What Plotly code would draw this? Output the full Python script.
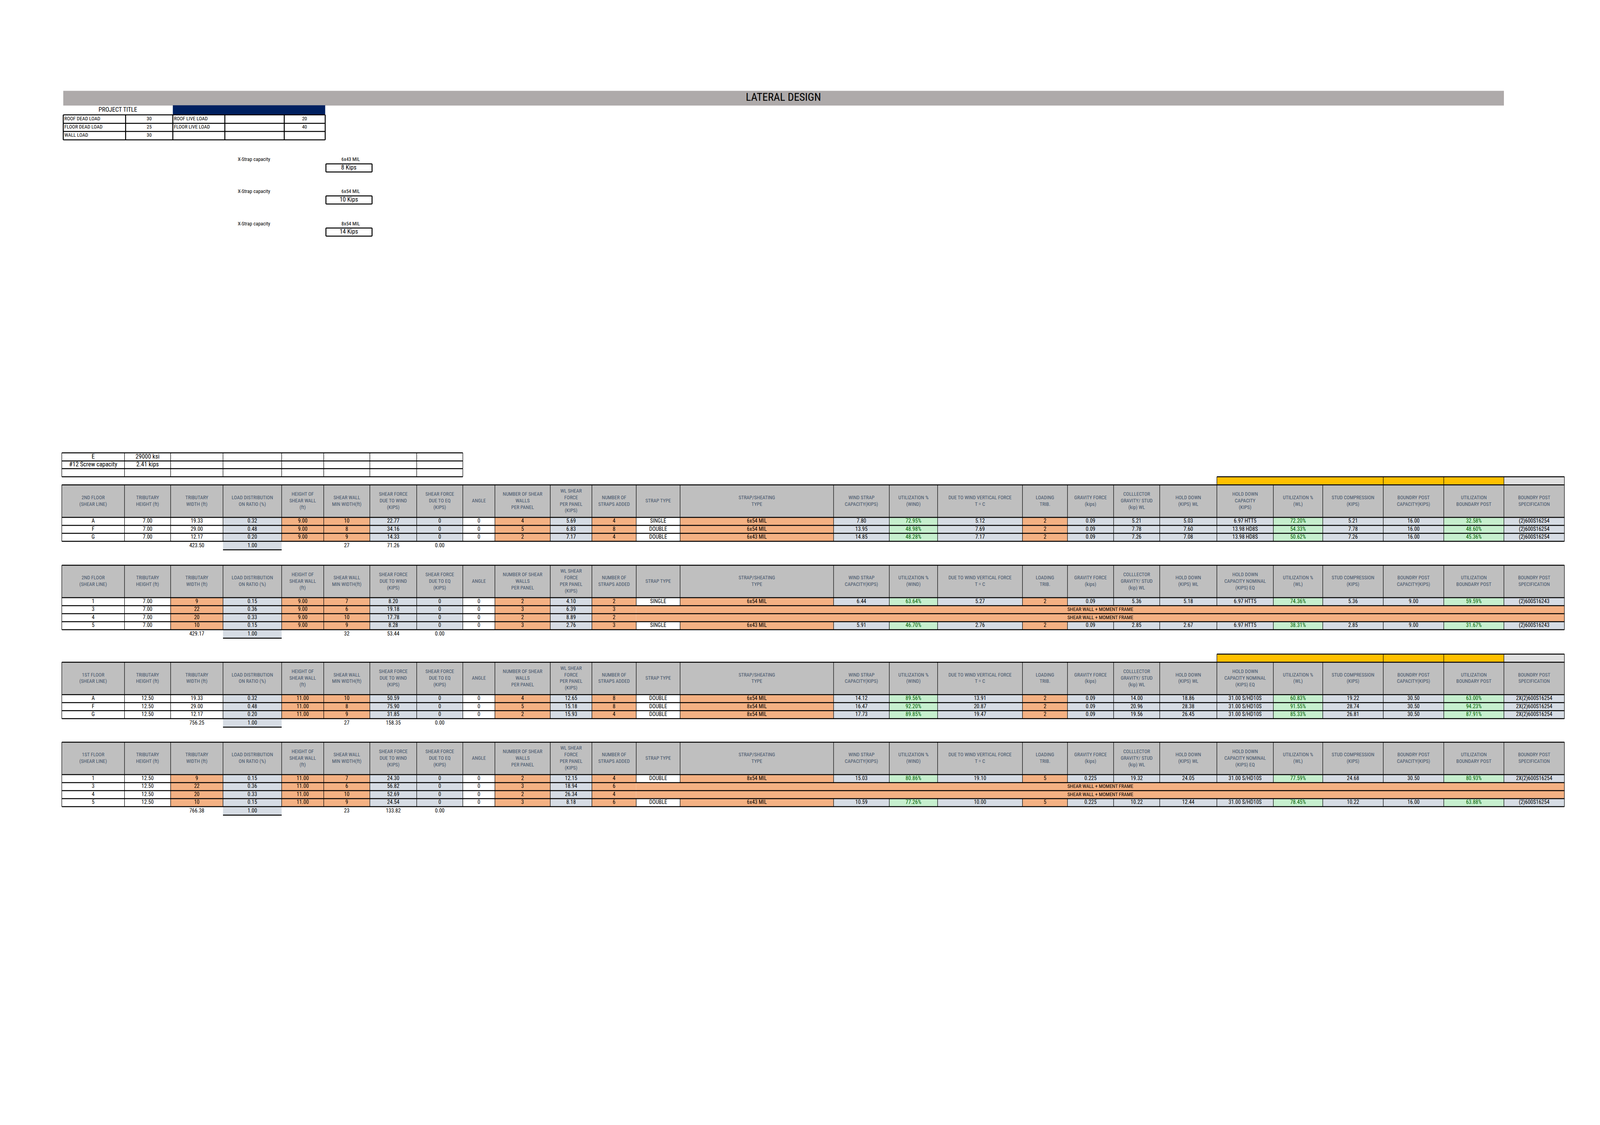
import plotly.graph_objects as go

# ---- data ----
load_labels = ['ROOF DEAD LOAD', 'FLOOR DEAD LOAD', 'WALL LOAD']
load_values = ['30', '25', '30']
live_labels = ['ROOF LIVE LOAD', 'FLOOR LIVE LOAD', '']
live_values = ['20', '40', '']
strap_names = ['6x43 MIL', '6x54 MIL', '8x54 MIL']
strap_caps = ['8 Kips', '10 Kips', '14 Kips']
const_labels = ['E', '#12 Screw capacity', '']
const_values = ['29000 ksi', '2.41 kips', '']

headers = ['{}<br>(SHEAR LINE)', 'TRIBUTARY<br>HEIGHT (ft)', 'TRIBUTARY<br>WIDTH (ft)',
           'LOAD DISTRIBUTION<br>ON RATIO (%)', 'HEIGHT OF<br>SHEAR WALL<br>(ft)',
           'SHEAR WALL<br>MIN WIDTH(ft)', 'SHEAR FORCE<br>DUE TO WIND<br>(KIPS)',
           'SHEAR FORCE<br>DUE TO EQ<br>(KIPS)', 'ANGLE', 'NUMBER OF SHEAR<br>WALLS<br>PER PANEL',
           'WL SHEAR<br>FORCE<br>PER PANEL<br>(KIPS)', 'NUMBER OF<br>STRAPS ADDED', 'STRAP TYPE',
           'STRAP/SHEATING<br>TYPE', 'WIND STRAP<br>CAPACITY(KIPS)', 'UTILIZATION %<br>(WIND)',
           'DUE TO WIND VERTICAL FORCE<br>T = C', 'LOADING<br>TRIB.', 'GRAVITY FORCE<br>(kips)',
           'COLLLECTOR<br>GRAVITY/ STUD<br>(kip) WL', 'HOLD DOWN<br>(KIPS) WL', '{}',
           'UTILIZATION %<br>(WL)', 'STUD COMPRESSION<br>(KIPS)', 'BOUNDRY POST<br>CAPACITY(KIPS)',
           'UTILIZATION<br>BOUNDARY POST', 'BOUNDRY POST<br>SPECIFICATION']
hd_cap_a = 'HOLD DOWN<br>CAPACITY<br>(KIPS)'
hd_cap_b = 'HOLD DOWN<br>CAPACITY NOMINAL<br>(KIPS) EQ'

t1_rows = [
    ['A', '7.00', '19.33', '0.32', '9.00', '10', '22.77', '0', '0', '4', '5.69', '4', 'SINGLE', '6x54 MIL', '7.80', '72.95%', '5.12', '2', '0.09', '5.21', '5.03', '6.97 HTT5', '72.20%', '5.21', '16.00', '32.58%', '(2)600S16254'],
    ['F', '7.00', '29.00', '0.48', '9.00', '8', '34.16', '0', '0', '5', '6.83', '8', 'DOUBLE', '6x54 MIL', '13.95', '48.98%', '7.69', '2', '0.09', '7.78', '7.60', '13.98 HD8S', '54.33%', '7.78', '16.00', '48.60%', '(2)600S16254'],
    ['G', '7.00', '12.17', '0.20', '9.00', '9', '14.33', '0', '0', '2', '7.17', '4', 'DOUBLE', '6x43 MIL', '14.85', '48.28%', '7.17', '2', '0.09', '7.26', '7.08', '13.98 HD8S', '50.62%', '7.26', '16.00', '45.36%', '(2)600S16254'],
]
t1_totals = ['423.50', '1.00', '27', '71.26', '0.00']

t2_rows = [
    ['1', '7.00', '9', '0.15', '9.00', '7', '8.20', '0', '0', '2', '4.10', '2', 'SINGLE', '6x54 MIL', '6.44', '63.64%', '5.27', '2', '0.09', '5.36', '5.18', '6.97 HTT5', '74.36%', '5.36', '9.00', '59.59%', '(2)600S16243'],
    ['3', '7.00', '22', '0.36', '9.00', '6', '19.18', '0', '0', '3', '6.39', '3'],
    ['4', '7.00', '20', '0.33', '9.00', '10', '17.78', '0', '0', '2', '8.89', '2'],
    ['5', '7.00', '10', '0.15', '9.00', '9', '8.28', '0', '0', '3', '2.76', '3', 'SINGLE', '6x43 MIL', '5.91', '46.70%', '2.76', '2', '0.09', '2.85', '2.67', '6.97 HTT5', '38.31%', '2.85', '9.00', '31.67%', '(2)600S16243'],
]
t2_totals = ['429.17', '1.00', '32', '53.44', '0.00']

t3_rows = [
    ['A', '12.50', '19.33', '0.32', '11.00', '10', '50.59', '0', '0', '4', '12.65', '8', 'DOUBLE', '6x54 MIL', '14.12', '89.56%', '13.91', '2', '0.09', '14.00', '18.86', '31.00 S/HD10S', '60.83%', '19.22', '30.50', '63.00%', '2X(2)600S16254'],
    ['F', '12.50', '29.00', '0.48', '11.00', '8', '75.90', '0', '0', '5', '15.18', '8', 'DOUBLE', '8x54 MIL', '16.47', '92.20%', '20.87', '2', '0.09', '20.96', '28.38', '31.00 S/HD10S', '91.55%', '28.74', '30.50', '94.23%', '2X(2)600S16254'],
    ['G', '12.50', '12.17', '0.20', '11.00', '9', '31.85', '0', '0', '2', '15.93', '4', 'DOUBLE', '8x54 MIL', '17.73', '89.85%', '19.47', '2', '0.09', '19.56', '26.45', '31.00 S/HD10S', '85.33%', '26.81', '30.50', '87.91%', '2X(2)600S16254'],
]
t3_totals = ['756.25', '1.00', '27', '158.35', '0.00']

t4_rows = [
    ['1', '12.50', '9', '0.15', '11.00', '7', '24.30', '0', '0', '2', '12.15', '4', 'DOUBLE', '8x54 MIL', '15.03', '80.86%', '19.10', '5', '0.225', '19.32', '24.05', '31.00 S/HD10S', '77.59%', '24.68', '30.50', '80.93%', '2X(2)600S16254'],
    ['3', '12.50', '22', '0.36', '11.00', '6', '56.82', '0', '0', '3', '18.94', '6'],
    ['4', '12.50', '20', '0.33', '11.00', '10', '52.69', '0', '0', '2', '26.34', '4'],
    ['5', '12.50', '10', '0.15', '11.00', '9', '24.54', '0', '0', '3', '8.18', '6', 'DOUBLE', '6x43 MIL', '10.59', '77.26%', '10.00', '5', '0.225', '10.22', '12.44', '31.00 S/HD10S', '78.45%', '10.22', '16.00', '63.88%', '(2)600S16254'],
]
t4_totals = ['766.38', '1.00', '23', '133.82', '0.00']
merged_text = 'SHEAR WALL + MOMENT FRAME'

# ---- layout / style ----
FONT = 'Liberation Sans Narrow, Roboto Condensed, Arial Narrow, sans-serif'
GRAY_HDR = '#BFBFBF'
BLUE = '#D6DCE4'
ORANGE = '#F4B183'
GREEN = '#C6EFCE'
GOLD = '#FFC000'
HDR_TXT = '#44546A'

xs = [159, 329, 454, 596, 755, 869, 994, 1121, 1246, 1333, 1483, 1596, 1716, 1835, 2251,
      2402, 2533, 2763, 2885, 3010, 3135, 3290, 3443, 3577, 3741, 3905, 4068, 4232]
col_fill = ['white', 'white', 'white', BLUE, ORANGE, ORANGE, BLUE, BLUE, 'white', ORANGE, BLUE,
            ORANGE, 'white', ORANGE, BLUE, GREEN, BLUE, ORANGE, BLUE, BLUE, BLUE, BLUE, GREEN,
            BLUE, BLUE, GREEN, BLUE]
green_cols = {15, 22, 25}

shapes = []
texts = {'x': [], 'y': [], 't': [], 'c': [], 's': [], 'p': []}
thin = {'x': [], 'y': []}
thick = {'x': [], 'y': []}


def rect(x0, y0, x1, y1, fill):
    shapes.append(dict(type='rect', x0=x0, y0=y0, x1=x1, y1=y1, fillcolor=fill,
                       line=dict(width=0), layer='below'))


def text(x, y, t, color='black', size=14, pos='middle center'):
    texts['x'].append(x); texts['y'].append(y); texts['t'].append(t)
    texts['c'].append(color); texts['s'].append(size); texts['p'].append(pos)


def hline(store, x0, x1, y):
    store['x'] += [x0, x1, None]; store['y'] += [y, y, None]


def vline(store, x, y0, y1):
    store['x'] += [x, x, None]; store['y'] += [y0, y1, None]


def add_table(top, floor, rows, totals, hd_label, orange_width=False, gold_top=None):
    hh = 88
    rh = 21.7
    if gold_top is not None:
        rect(xs[21], gold_top, xs[26], top, GOLD)
        rect(xs[26], gold_top, xs[27], top, '#E0E0E0')
        hline(thick, xs[21], xs[27], gold_top)
        for c in (21, 24, 25, 26, 27):
            vline(thin, xs[c], gold_top, top)
    rect(xs[0], top, xs[-1], top + hh, GRAY_HDR)
    for c, h in enumerate(headers):
        lab = h.format(floor) if c == 0 else (hd_label if c == 21 else h)
        text((xs[c] + xs[c + 1]) / 2, top + hh / 2, lab, HDR_TXT, 13)
        vline(thin, xs[c], top, top + hh)
    vline(thin, xs[-1], top, top + hh)
    hline(thick, xs[0], xs[-1], top)
    hline(thick, xs[0], xs[-1], top + hh)
    y = top + hh
    for r in rows:
        y1 = y + rh
        for c, v in enumerate(r):
            fill = col_fill[c]
            if c == 2 and orange_width:
                fill = ORANGE
            if fill != 'white':
                rect(xs[c], y, xs[c + 1], y1, fill)
            text((xs[c] + xs[c + 1]) / 2, (y + y1) / 2, v,
                 '#006100' if c in green_cols else 'black')
            vline(thin, xs[c], y, y1)
        if len(r) < 27:
            rect(xs[12], y, xs[-1], y1, ORANGE)
            text((xs[12] + xs[-1]) / 2, (y + y1) / 2, merged_text, 'black', 13)
        vline(thin, xs[-1], y, y1)
        hline(thick, xs[0], xs[-1], y1)
        y = y1
    ty = y + 12
    for c, v in zip([2, 3, 5, 6, 7], totals):
        text((xs[c] + xs[c + 1]) / 2, ty, v)
    rect(xs[3], y, xs[4], y + 22, BLUE)
    hline(thick, xs[3], xs[4], y + 23)


# title bar
rect(163, 238, 4068, 278, '#AEAAAA')
text(2115, 258, 'LATERAL DESIGN', 'black', 28)

# project info table
rect(460, 277, 873, 303, '#002060')
text(311, 290, 'PROJECT TITLE', 'black', 16)
prow = [303, 326, 348, 371]
for i in range(3):
    yc = (prow[i] + prow[i + 1]) / 2
    text(166, yc, load_labels[i], 'black', 13, 'middle right')
    text(396, yc, load_values[i], 'black', 13)
    text(463, yc, live_labels[i], 'black', 13, 'middle right')
    text(817, yc, live_values[i], 'black', 13)
for yy in prow:
    hline(thick, 163, 873, yy)
for xx in [163, 332, 460, 601, 762, 873]:
    vline(thick, xx, 303, 371)

# x-strap boxes
for i, (n, cap) in enumerate(zip(strap_names, strap_caps)):
    yl = 425 + 87 * i
    text(680, yl, 'X-Strap capacity', 'black', 13)
    text(942, yl, n, 'black', 13)
    b0, b1 = 436 + 87 * i, 458 + 87 * i
    hline(thick, 875, 1000, b0); hline(thick, 875, 1000, b1)
    vline(thick, 875, b0, b1); vline(thick, 1000, b0, b1)
    text(937, (b0 + b1) / 2, cap, 'black', 16)

# constants table
crow = [1220, 1242, 1263, 1285]
for i in range(3):
    yc = (crow[i] + crow[i + 1]) / 2
    text((xs[0] + xs[1]) / 2, yc, const_labels[i], 'black', 16)
    text((xs[1] + xs[2]) / 2, yc, const_values[i], 'black', 16)
for yy in crow:
    hline(thick, xs[0], xs[8], yy)
for xx in xs[:9]:
    vline(thin, xx, crow[0], crow[-1])

add_table(1307, '2ND FLOOR', t1_rows, t1_totals, hd_cap_a, gold_top=1285)
add_table(1525, '2ND FLOOR', t2_rows, t2_totals, hd_cap_b, orange_width=True)
add_table(1788, '1ST FLOOR', t3_rows, t3_totals, hd_cap_b, gold_top=1766)
add_table(2005, '1ST FLOOR', t4_rows, t4_totals, hd_cap_b, orange_width=True)

fig = go.Figure()
fig.add_trace(go.Scatter(x=thin['x'], y=thin['y'], mode='lines',
                         line=dict(color='black', width=1.2), hoverinfo='skip'))
fig.add_trace(go.Scatter(x=thick['x'], y=thick['y'], mode='lines',
                         line=dict(color='black', width=2.5), hoverinfo='skip'))
fig.add_trace(go.Scatter(x=texts['x'], y=texts['y'], mode='text', text=texts['t'],
                         textposition=texts['p'],
                         textfont=dict(family=FONT, color=texts['c'], size=texts['s']),
                         hoverinfo='skip'))

fig.update_layout(
    autosize=True, margin=dict(l=0, r=0, t=0, b=0),
    paper_bgcolor='white', plot_bgcolor='white', showlegend=False, shapes=shapes,
    xaxis=dict(range=[0, 4320], visible=False, fixedrange=True),
    yaxis=dict(range=[3035, 0], visible=False, fixedrange=True),
)
fig.write_html("out.html", default_width='100%', default_height='100%',
               config={'responsive': True})
